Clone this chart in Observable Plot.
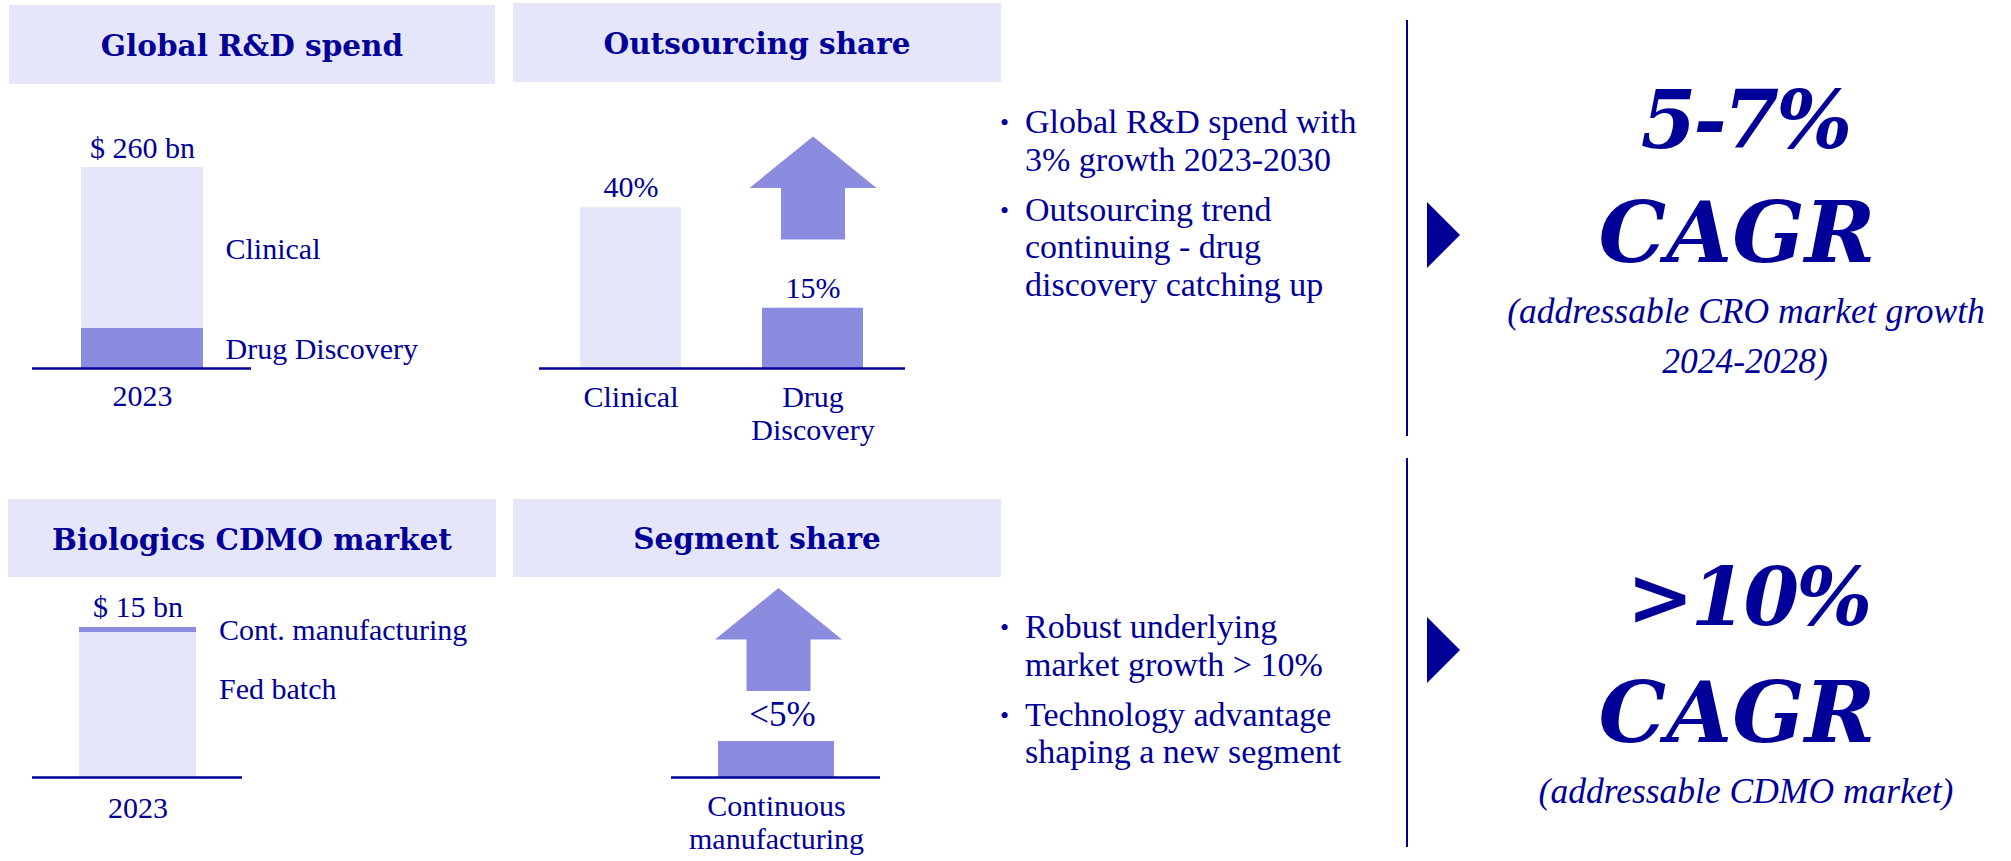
<!DOCTYPE html>
<html>
<head>
<meta charset="utf-8">
<script src="https://cdn.jsdelivr.net/npm/d3@7"></script>
<script src="https://cdn.jsdelivr.net/npm/@observablehq/plot@0.6"></script>
<style>
html, body { margin: 0; padding: 0; background: #ffffff; }
#page { position: relative; width: 2011px; height: 861px; overflow: hidden; background: #ffffff; }
#page > svg { position: absolute; }
</style>
</head>
<body>
<div id="page"></div>
<script>
// ---------------- DATA ----------------
const headerTitles = ["Global R&D spend", "Outsourcing share", "Biologics CDMO market", "Segment share"];

// Global R&D spend 2023 ($bn), stacked bottom -> top
const rdYear = "2023";
const rdSegments = ["Drug Discovery", "Clinical"];
const rdValues = [52, 208];
const rdTotalLabel = "$ 260 bn";

// Outsourcing share (%)
const outsourcingCategories = ["Clinical", "Drug Discovery"];
const outsourcingShares = [40, 15];
const outsourcingLabels = ["40%", "15%"];
const outsourcingRising = ["Drug Discovery"];

// Biologics CDMO market 2023 ($bn), stacked bottom -> top
const cdmoYear = "2023";
const cdmoSegments = ["Fed batch", "Cont. manufacturing"];
const cdmoValues = [14.5, 0.5];
const cdmoTotalLabel = "$ 15 bn";

// Segment share (%)
const segmentCategories = ["Continuous manufacturing"];
const segmentShares = [5];
const segmentLabels = ["<5%"];
const segmentRising = ["Continuous manufacturing"];

// Commentary
const bulletsTop = [["Global R&D spend with", "3% growth 2023-2030"], ["Outsourcing trend", "continuing - drug", "discovery catching up"]];
const bulletsBottom = [["Robust underlying", "market growth > 10%"], ["Technology advantage", "shaping a new segment"]];
const cagrTop = ["5-7%", "CAGR", "(addressable CRO market growth", "2024-2028)"];
const cagrBottom = [">10%", "CAGR", "(addressable CDMO market)"];

// ---------------- STYLE ----------------
const NAVY = "#000099";
const MID = "#8B8BDF";
const LIGHT = "#E6E6FA";
const SERIF = "'Liberation Serif', serif";
const BOLDSERIF = "'DejaVu Serif', serif";

const page = d3.select("#page");

// ---------------- OVERLAY (panels, commentary) ----------------
const W = 2011, H = 861;
const overlay = page.append("svg").attr("width", W).attr("height", H)
  .style("left", "0px").style("top", "0px");

const panels = [
  {x: 9, y: 5, w: 486, h: 79, base: 56},
  {x: 513, y: 3, w: 488, h: 79, base: 54},
  {x: 8, y: 499, w: 488, h: 78, base: 550},
  {x: 513, y: 499, w: 488, h: 78, base: 549}
];
panels.forEach((p, i) => {
  overlay.append("rect").attr("x", p.x).attr("y", p.y).attr("width", p.w).attr("height", p.h).attr("fill", LIGHT);
  overlay.append("text").attr("x", p.x + p.w / 2).attr("y", p.base)
    .attr("text-anchor", "middle").attr("fill", NAVY)
    .attr("font-family", BOLDSERIF).attr("font-weight", "bold").attr("font-size", 29.5)
    .text(headerTitles[i]);
});

function drawBullets(items, firstBaseline) {
  let y = firstBaseline;
  items.forEach(lines => {
    overlay.append("text").attr("x", 1000).attr("y", y - 2).attr("fill", NAVY)
      .attr("font-family", SERIF).attr("font-size", 26).text("•");
    lines.forEach(line => {
      overlay.append("text").attr("x", 1025).attr("y", y).attr("fill", NAVY)
        .attr("font-family", SERIF).attr("font-size", 34).text(line);
      y += 37.5;
    });
    y += 12.5;
  });
}
drawBullets(bulletsTop, 133);
drawBullets(bulletsBottom, 638);

// separators and pointers
[[20, 436], [458, 847]].forEach(([y1, y2]) => {
  overlay.append("line").attr("x1", 1407).attr("x2", 1407).attr("y1", y1).attr("y2", y2)
    .attr("stroke", NAVY).attr("stroke-width", 2);
});
[235, 650].forEach(cy => {
  overlay.append("path").attr("d", `M1427,${cy - 33}L1460,${cy}L1427,${cy + 33}Z`).attr("fill", NAVY);
});

function bigText(str, x, y, size, weight, family, spacing) {
  overlay.append("text").attr("x", x).attr("y", y).attr("text-anchor", "middle")
    .attr("fill", NAVY).attr("font-family", family).attr("font-style", "italic")
    .attr("font-weight", weight).attr("font-size", size)
    .attr("letter-spacing", spacing || 0).text(str);
}
bigText(cagrTop[0], 1745, 148, 80, "bold", BOLDSERIF, -3);
bigText(cagrTop[1], 1737, 262, 85, "bold", BOLDSERIF);
bigText(cagrTop[2], 1746, 323, 35.5, "normal", SERIF);
bigText(cagrTop[3], 1745, 373, 35.5, "normal", SERIF);
bigText(cagrBottom[0], 1748, 625, 80, "bold", BOLDSERIF, -3);
bigText(cagrBottom[1], 1737, 742, 85, "bold", BOLDSERIF);
bigText(cagrBottom[2], 1746, 803, 35.5, "normal", SERIF);

// ---------------- CHARTS ----------------
const upArrow = {
  draw(context, size) {
    const r = Math.sqrt(size / Math.PI);
    const hw = r * 63.5 / 51.5, sw = r * 32 / 51.5;
    context.moveTo(0, -r);
    context.lineTo(hw, 0);
    context.lineTo(sw, 0);
    context.lineTo(sw, r);
    context.lineTo(-sw, r);
    context.lineTo(-sw, 0);
    context.lineTo(-hw, 0);
    context.closePath();
  }
};

const chartStyle = {background: "transparent", color: NAVY, fontFamily: SERIF, fontSize: "30px", overflow: "visible"};

function place(svg, left, top) {
  svg.style.position = "absolute";
  svg.style.left = left + "px";
  svg.style.top = top + "px";
  page.node().appendChild(svg);
}

// Chart 1: Global R&D spend
const rdData = rdSegments.map((s, i) => ({year: rdYear, segment: s, value: rdValues[i]}));
const rdTotal = d3.sum(rdValues);
place(Plot.plot({
  width: 500, height: 350,
  marginTop: 77, marginBottom: 72, marginLeft: 32, marginRight: 249,
  x: {domain: [rdYear], padding: 0.284},
  y: {domain: [0, rdTotal], axis: null},
  color: {domain: rdSegments, range: [MID, LIGHT]},
  style: chartStyle,
  marks: [
    Plot.barY(rdData, {x: "year", y: "value", fill: "segment"}),
    Plot.ruleY([0], {stroke: NAVY, strokeWidth: 2.5}),
    Plot.text(rdData, Plot.stackY({x: "year", y: "value", text: "segment", textAnchor: "start", dx: 83, dy: 1})),
    Plot.text([rdTotalLabel], {x: [rdYear], y: [rdTotal], text: d => d, dy: -19}),
    Plot.axisX({tickSize: 0, tickPadding: 16, label: null})
  ]
}), 0, 90);

// Chart 2: Outsourcing share
const outData = outsourcingCategories.map((c, i) => ({category: c, share: outsourcingShares[i], label: outsourcingLabels[i]}));
place(Plot.plot({
  width: 500, height: 350,
  marginTop: 77, marginBottom: 72, marginLeft: 39, marginRight: 95,
  x: {domain: outsourcingCategories, paddingInner: 0.444, paddingOuter: 0.2245},
  y: {domain: [0, 50], axis: null},
  color: {domain: outsourcingCategories, range: [LIGHT, MID]},
  style: chartStyle,
  marks: [
    Plot.barY(outData, {x: "category", y: "share", fill: "category"}),
    Plot.ruleY([0], {stroke: NAVY, strokeWidth: 2.5}),
    Plot.text(outData, {x: "category", y: "share", text: "label", dy: -20}),
    Plot.dot(outsourcingRising, {x: d => d, frameAnchor: "top", dy: 20.5, r: 51.5, symbol: upArrow, fill: MID}),
    Plot.axisX({tickSize: 0, tickPadding: 15, lineHeight: 1.1, label: null, tickFormat: d => d.replace(" ", "\n")})
  ]
}), 500, 90);

// Chart 3: Biologics CDMO market
const cdmoData = cdmoSegments.map((s, i) => ({year: cdmoYear, segment: s, value: cdmoValues[i]}));
const cdmoTotal = d3.sum(cdmoValues);
place(Plot.plot({
  width: 500, height: 281,
  marginTop: 47, marginBottom: 84, marginLeft: 32, marginRight: 258,
  x: {domain: [cdmoYear], padding: 0.284},
  y: {domain: [0, cdmoTotal], axis: null},
  color: {domain: cdmoSegments, range: [LIGHT, MID]},
  style: chartStyle,
  marks: [
    Plot.barY(cdmoData, {x: "year", y: "value", fill: "segment"}),
    Plot.ruleY([0], {stroke: NAVY, strokeWidth: 2.5}),
    Plot.text(cdmoData, Plot.stackY({x: "year", y: "value", text: d => d.segment === cdmoSegments[1] ? d.segment : "", textAnchor: "start", dx: 81})),
    Plot.text(cdmoData, Plot.stackY({x: "year", y: "value", text: d => d.segment === cdmoSegments[0] ? d.segment : "", textAnchor: "start", dx: 81, dy: -16})),
    Plot.text([cdmoTotalLabel], {x: [cdmoYear], y: [cdmoTotal], text: d => d, dy: -20}),
    Plot.axisX({tickSize: 0, tickPadding: 19, label: null})
  ]
}), 0, 580);

// Chart 4: Segment share
const segData = segmentCategories.map((c, i) => ({category: c, share: segmentShares[i], label: segmentLabels[i]}));
place(Plot.plot({
  width: 500, height: 281,
  marginTop: 53, marginBottom: 84, marginLeft: 171, marginRight: 120,
  x: {domain: segmentCategories, padding: 0.284},
  y: {domain: [0, 20], axis: null},
  color: {domain: segmentCategories, range: [MID]},
  style: chartStyle,
  marks: [
    Plot.barY(segData, {x: "category", y: "share", fill: "category"}),
    Plot.ruleY([0], {stroke: NAVY, strokeWidth: 2.5}),
    Plot.text(segData, {x: "category", y: "share", text: "label", dy: -27, dx: 6, fontSize: 35}),
    Plot.dot(segmentRising, {x: d => d, frameAnchor: "top", dy: 6, dx: 2, r: 51.5, symbol: upArrow, fill: MID}),
    Plot.axisX({tickSize: 0, tickPadding: 15, lineHeight: 1.1, label: null, tickFormat: d => d.replace(" ", "\n")})
  ]
}), 500, 580);
</script>
</body>
</html>
